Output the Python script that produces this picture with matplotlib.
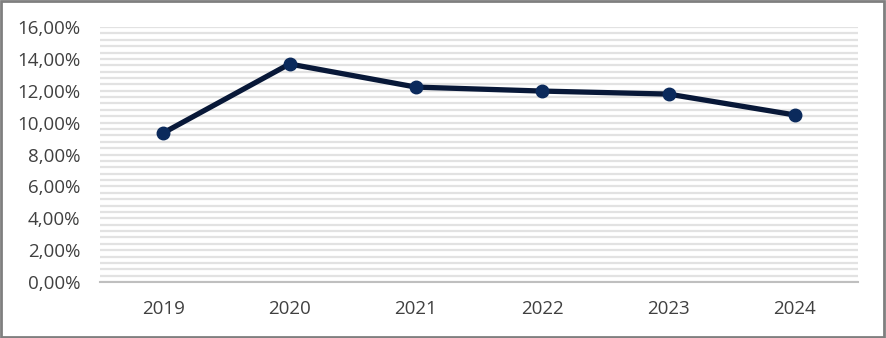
import matplotlib
matplotlib.use("Agg")
import matplotlib.pyplot as plt
from matplotlib.patches import Rectangle
from matplotlib.ticker import MultipleLocator, FuncFormatter
import numpy as np

years = ["2019", "2020", "2021", "2022", "2023", "2024"]
values = [9.35, 13.68, 12.23, 11.98, 11.79, 10.48]

plt.rcParams['font.family'] = ['Open Sans', 'DejaVu Sans']

fig = plt.figure(figsize=(8.86, 3.38), dpi=100)
ax = fig.add_axes([100/886, 1-282/338, 758/886, 255/338])

x = np.arange(len(years))
ax.set_xlim(-0.5, len(years) - 0.5)
ax.set_ylim(0, 16)

ax.yaxis.set_major_locator(MultipleLocator(2))
ax.yaxis.set_minor_locator(MultipleLocator(0.4))
ax.yaxis.set_major_formatter(FuncFormatter(lambda v, p: f"{v:.2f}".replace('.', ',') + "%"))
ax.grid(True, which='both', axis='y', color='#e2e2e2', linewidth=1.6, zorder=0)
ax.set_axisbelow(True)

ax.plot(x, values, color='#081838', linewidth=3.8, marker='o', markersize=9,
        markerfacecolor='#0b2a5c', markeredgecolor='#0b2a5c', zorder=3, solid_capstyle='round')

ax.set_xticks(x)
ax.set_xticklabels(years)
for s in ['top', 'right', 'left']:
    ax.spines[s].set_visible(False)
ax.spines['bottom'].set_color('#bfbfbf')
ax.spines['bottom'].set_linewidth(1.5)
ax.tick_params(axis='both', which='both', length=0, labelsize=13.5, colors='#404040')
ax.tick_params(axis='x', pad=13)
ax.tick_params(axis='y', pad=14)

fig.patches.append(Rectangle((0.001, 0.002), 0.997, 0.995, transform=fig.transFigure,
                             fill=False, edgecolor='#7f7f7f', linewidth=2))

fig.savefig("out.png", dpi=100)
